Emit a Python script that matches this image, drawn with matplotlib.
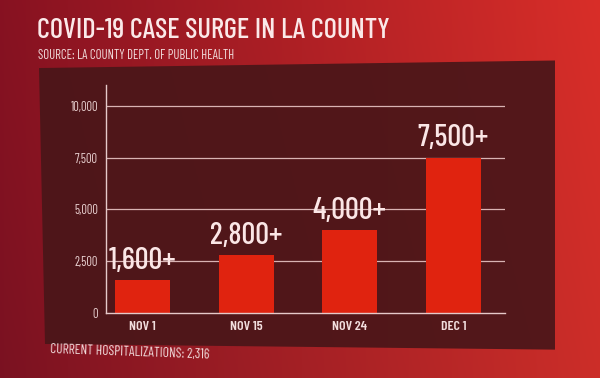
import numpy as np
import matplotlib.pyplot as plt
from matplotlib.patches import Polygon

# data
dates = ["NOV 1", "NOV 15", "NOV 24", "DEC 1"]
cases = [1600, 2800, 4000, 7500]
case_labels = ["1,600+", "2,800+", "4,000+", "7,500+"]
y_ticks = [0, 2500, 5000, 7500, 10000]
y_tick_labels = ["0", "2,500", "5,000", "7,500", "10,000"]

plt.rcParams["font.family"] = ["Barlow Condensed", "DejaVu Sans"]


def main():
    fig = plt.figure(figsize=(6, 3.78), dpi=100)

    # red gradient background
    bg = fig.add_axes([0, 0, 1, 1])
    gx = np.linspace(0, 1, 300)
    gy = np.linspace(0, 1, 200)
    X, Y = np.meshgrid(gx, gy)
    r = 0.48 + 0.32 * X + 0.05 * Y
    g = 0.07 + 0.11 * X
    b = 0.13 + 0.03 * X
    img = np.dstack([r, g, b]).clip(0, 1)
    bg.imshow(img, extent=[0, 1, 0, 1], aspect="auto", origin="lower")

    # dark panel (slightly skewed like the screen)
    panel = Polygon([[0.065, 0.82], [0.925, 0.84], [0.925, 0.075], [0.075, 0.09]],
                    closed=True, facecolor="#4a1619", edgecolor="none", alpha=0.93)
    bg.add_patch(panel)
    bg.set_xlim(0, 1)
    bg.set_ylim(0, 1)
    bg.axis("off")

    fig.text(0.062, 0.918, "COVID-19 CASE SURGE IN LA COUNTY", color="#fbe9e9",
             fontsize=20.5, fontweight=500, va="center", ha="left")
    fig.text(0.064, 0.852, "SOURCE: LA COUNTY DEPT. OF PUBLIC HEALTH", color="#f2dede",
             fontsize=9.2, va="center", ha="left")
    fig.text(0.083, 0.068, "CURRENT HOSPITALIZATIONS: 2,316", color="#f2dede",
             fontsize=9.8, va="center", ha="left", rotation=-2)

    ax = fig.add_axes([0.177, 0.172, 0.665, 0.603])
    ax.set_facecolor("none")
    x = np.arange(len(dates))
    ax.bar(x, cases, width=0.53, color="#e0230f", zorder=2)
    for xi, v, lab in zip(x, cases, case_labels):
        ax.text(xi, v + 250, lab, ha="center", va="bottom", color="#fbe6e6",
                fontsize=22, fontweight=500, zorder=3)

    for t in y_ticks[1:]:
        ax.axhline(t, color="#d9b3b3", linewidth=0.9, zorder=1)
    ax.set_ylim(0, 11000)
    ax.set_xlim(-0.35, 3.5)
    ax.set_yticks(y_ticks)
    ax.set_yticklabels(y_tick_labels, color="#ead2d2", fontsize=9)
    ax.set_xticks(x)
    ax.set_xticklabels(dates, color="#f2dede", fontsize=10, fontweight=600)
    ax.tick_params(length=0, pad=6)
    for s in ["top", "right"]:
        ax.spines[s].set_visible(False)
    for s in ["left", "bottom"]:
        ax.spines[s].set_color("#e6c9c9")
        ax.spines[s].set_linewidth(1.0)

    plt.savefig("out.png", dpi=100)
    plt.close()


if __name__ == "__main__":
    main()
